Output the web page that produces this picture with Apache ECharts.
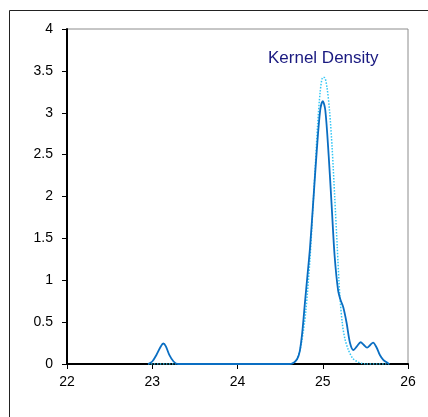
<!DOCTYPE html>
<html>
<head>
<meta charset="utf-8">
<script src="https://cdn.jsdelivr.net/npm/echarts@6/dist/echarts.min.js"></script>
<style>
  html, body { margin: 0; padding: 0; background: #fff; }
  #chart { width: 428px; height: 417px; }
</style>
</head>
<body>
<div id="chart"></div>
<script>
// kernel density estimate (solid)
const kdeX = [22.95, 23.0, 23.05, 23.1, 23.13, 23.16, 23.2, 23.25, 23.3, 24.6, 24.65, 24.7, 24.73, 24.76, 24.79,
  24.82, 24.85, 24.89, 24.93, 24.97, 25.0, 25.03, 25.07, 25.105, 25.14, 25.18, 25.21, 25.24, 25.28, 25.32,
  25.36, 25.4, 25.445, 25.48, 25.52, 25.56, 25.59, 25.63, 25.67, 25.71, 25.75, 25.78]
const kdeY = [0, 0.03, 0.11, 0.21, 0.245, 0.21, 0.11, 0.03, 0, 0, 0.01, 0.06, 0.15, 0.38, 0.72,
  1.05, 1.38, 1.96, 2.55, 3.03, 3.14, 3.03, 2.48, 1.88, 1.28, 0.88, 0.76, 0.68, 0.49, 0.25,
  0.167, 0.21, 0.26, 0.23, 0.195, 0.23, 0.255, 0.2, 0.107, 0.05, 0.02, 0]

// normal fit (dotted)
const normX = [22.95, 24.6, 24.65, 24.7, 24.75, 24.8, 24.85, 24.88, 24.91, 24.94, 24.97, 25.0, 25.02, 25.05,
  25.08, 25.11, 25.14, 25.17, 25.2, 25.23, 25.26, 25.3, 25.35, 25.4, 25.45, 25.5, 25.78]
const normY = [0, 0, 0.01, 0.06, 0.25, 0.62, 1.25, 1.78, 2.32, 2.86, 3.25, 3.42, 3.42, 3.3,
  3.02, 2.58, 2.0, 1.4, 0.82, 0.48, 0.3, 0.17, 0.07, 0.03, 0.01, 0, 0]

const xTicks = [22, 23, 24, 25, 26]
const yTicks = [0, 0.5, 1, 1.5, 2, 2.5, 3, 3.5, 4]

const chart = echarts.init(document.getElementById('chart'))
const font = 'Liberation Sans, Arial, sans-serif'

chart.setOption({
  animation: false,
  graphic: [{
    type: 'rect',
    shape: { x: 9.5, y: 10.5, width: 440, height: 430 },
    style: { fill: 'none', stroke: '#222', lineWidth: 1 },
    z: 0
  }, {
    type: 'text',
    left: 268,
    top: 50,
    style: { text: 'Kernel Density', fill: '#1a1a80', font: '17px ' + font }
  }],
  grid: {
    left: 67, top: 29, right: 20, bottom: 53,
    show: true, borderColor: '#8c8c8c', borderWidth: 1
  },
  xAxis: {
    type: 'value',
    min: xTicks[0],
    max: xTicks[xTicks.length - 1],
    interval: 1,
    splitLine: { show: false },
    axisLine: { lineStyle: { color: '#000', width: 2 } },
    axisTick: { length: 5, lineStyle: { color: '#000' } },
    axisLabel: { color: '#000', fontSize: 14, fontFamily: font, margin: 11 }
  },
  yAxis: {
    type: 'value',
    min: yTicks[0],
    max: yTicks[yTicks.length - 1],
    interval: 0.5,
    splitLine: { show: false },
    axisLine: { show: true, lineStyle: { color: '#000', width: 2 } },
    axisTick: { show: true, length: 5, lineStyle: { color: '#000' } },
    axisLabel: { color: '#000', fontSize: 14, fontFamily: font, margin: 14 }
  },
  series: [{
    type: 'line',
    data: normX.map((x, i) => [x, normY[i]]),
    smooth: 0.3,
    symbol: 'none',
    lineStyle: { color: '#33c6f5', width: 1.5, type: 'dotted' }
  }, {
    type: 'line',
    data: kdeX.map((x, i) => [x, kdeY[i]]),
    smooth: 0.3,
    symbol: 'none',
    lineStyle: { color: '#0a6ec2', width: 1.8 }
  }]
})
</script>
</body>
</html>
